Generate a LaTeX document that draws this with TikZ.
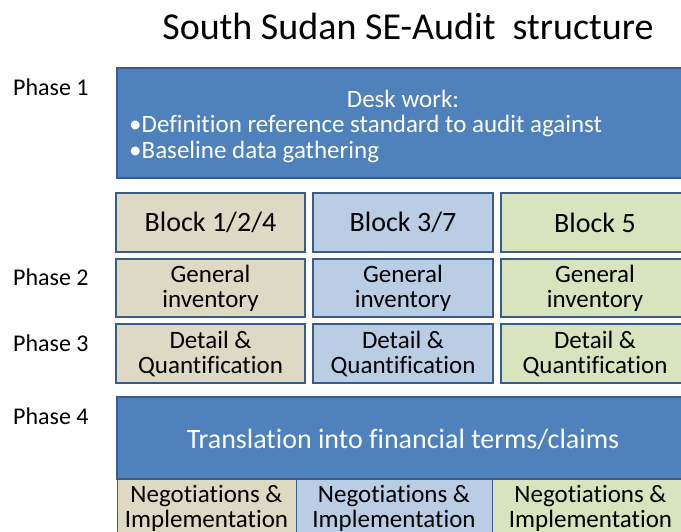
\documentclass[tikz,border=0pt]{standalone}
\usepackage{fontspec}
\setmainfont[Ligatures=NoCommon]{Carlito}
\usepackage{tikz}
\definecolor{darkblue}{HTML}{385D8A}
\definecolor{midblue}{HTML}{4F81BD}
\definecolor{tanfill}{HTML}{DDD9C3}
\definecolor{bluefill}{HTML}{B9CDE5}
\definecolor{greenfill}{HTML}{D7E4BD}
\tikzstyle{phasebox} = [rectangle, draw=darkblue, line width=2pt, fill=midblue, inner sep=0pt]
\tikzstyle{cell} = [rectangle, draw=darkblue, line width=2pt, text centered, align=center, inner sep=0pt, font=\fontsize{25}{25}\selectfont]
\tikzstyle{flatcell} = [rectangle, draw=darkblue, line width=1pt, text centered, align=center, inner sep=0pt, font=\fontsize{25}{25}\selectfont]
\tikzstyle{phaselabel} = [anchor=west, inner sep=0pt, font=\fontsize{24}{26}\selectfont]
\tikzstyle{whitetext} = [text=white, inner sep=0pt, font=\fontsize{25}{28}\selectfont]

\begin{document}
\begin{tikzpicture}[x=1pt, y=-1pt]
        \clip (0,0) rectangle (681,532);
        \useasboundingbox (0,0) rectangle (681,532);
        \node (title) at (408,26) [inner sep=0pt, font=\fontsize{38}{42}\selectfont] {South Sudan SE-Audit\ \ structure};

        % phase labels
        \node (labelone) at (13,87) [phaselabel] {Phase 1};
        \node (labeltwo) at (13,277) [phaselabel] {Phase 2};
        \node (labelthree) at (13,343) [phaselabel] {Phase 3};
        \node (labelfour) at (13,416) [phaselabel] {Phase 4};

        % phase 1
        \node (deskbox) at (403,123) [phasebox, minimum width=572pt, minimum height=110pt] {};
        \node (deskhead) at (403,99) [whitetext] {Desk work:};
        \node (bulletone) at (129,126) [whitetext, anchor=west] {•Definition reference standard to audit against};
        \node (bullettwo) at (129,152) [whitetext, anchor=west] {•Baseline data gathering};

        % blocks
        \node (blockA) at (210.5,222.5) [cell, fill=tanfill, minimum width=189pt, minimum height=59pt, font=\fontsize{28}{30}\selectfont] {Block 1/2/4};
        \node (blockB) at (403,222.5) [cell, fill=bluefill, minimum width=180pt, minimum height=59pt, font=\fontsize{28}{30}\selectfont] {Block 3/7};
        \node (blockC) at (595,222.5) [cell, fill=greenfill, minimum width=188pt, minimum height=59pt, font=\fontsize{28}{30}\selectfont] {Block 5};

        % phase 2
        \node (inventoryA) at (210.5,288) [cell, fill=tanfill, minimum width=189pt, minimum height=58pt] {General\\inventory};
        \node (inventoryB) at (403,288) [cell, fill=bluefill, minimum width=180pt, minimum height=58pt] {General\\inventory};
        \node (inventoryC) at (595,288) [cell, fill=greenfill, minimum width=188pt, minimum height=58pt] {General\\inventory};

        % phase 3
        \node (detailA) at (210.5,353.5) [cell, fill=tanfill, minimum width=189pt, minimum height=59pt] {Detail \&\\Quantification};
        \node (detailB) at (403,353.5) [cell, fill=bluefill, minimum width=180pt, minimum height=59pt] {Detail \&\\Quantification};
        \node (detailC) at (595,353.5) [cell, fill=greenfill, minimum width=188pt, minimum height=59pt] {Detail \&\\Quantification};

        % phase 4
        \node (claimsbox) at (403,438) [phasebox, minimum width=572pt, minimum height=82pt] {};
        \node (claimstext) at (403,439) [whitetext, font=\fontsize{28}{30}\selectfont] {Translation into financial terms/claims};
        \node (negotiateA) at (206.5,508) [flatcell, fill=tanfill, minimum width=179pt, minimum height=58pt] {Negotiations \&\\Implementation};
        \node (negotiateB) at (394,508) [flatcell, fill=bluefill, minimum width=196pt, minimum height=58pt] {Negotiations \&\\Implementation};
        \node (negotiateC) at (590.5,508) [flatcell, fill=greenfill, minimum width=197pt, minimum height=58pt] {Negotiations \&\\Implementation};
    \end{tikzpicture}
\end{document}
